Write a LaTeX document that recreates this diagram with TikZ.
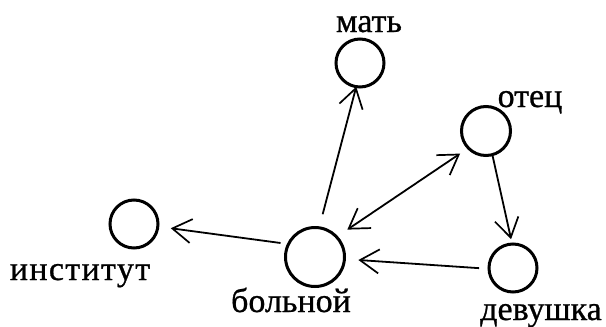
\documentclass[tikz,border=0pt]{standalone}
\usepackage{fontspec}
\setmainfont{Liberation Serif}[FakeBold=0.8]
\usetikzlibrary{arrows.meta}
\tikzset{
  vert/.style={draw, circle, line width=3pt, inner sep=0pt, outer sep=0pt},
  lbl/.style={anchor=base, inner sep=0pt, font=\fontsize{34}{34}\selectfont},
  barb/.tip={Straight Barb[length=19pt,width=24pt,line width=1.7pt]},
  arr/.style={line width=1.8pt, -barb},
  darr/.style={line width=1.8pt, barb-barb}
}
\begin{document}
\begin{tikzpicture}[x=1pt,y=-1pt]
\useasboundingbox (0,0) rectangle (606,327);
\node[vert, minimum size=48pt] (i) at (134,224) {};
\node[vert, minimum size=59pt] (b) at (315,257) {};
\node[vert, minimum size=48pt] (m) at (360,63) {};
\node[vert, minimum size=49pt] (o) at (486,131) {};
\node[vert, minimum size=48pt] (d) at (513,268) {};
\node[lbl] (li) at (80,280) {\addfontfeature{LetterSpace=4}институт};
\node[lbl] (lb) at (291,312) {больной};
\node[lbl] (lm) at (369,32) {мать};
\node[lbl] (lo) at (530,107) {отец};
\node[lbl] (ld) at (541,320) {девушка};
\draw[arr, shorten <=8pt, shorten >=13pt] (b.154) -- (i.-6);
\draw[arr, shorten <=14pt] (b.82) -- (m.261);
\draw[darr, shorten <=13pt, shorten >=10pt] (b.43) -- (o.224);
\draw[arr, shorten <=1pt, shorten >=5pt] (o.-75) -- (d.92);
\draw[arr, shorten <=10pt, shorten >=14pt] (d.182) -- (b.-4);
\end{tikzpicture}
\end{document}
